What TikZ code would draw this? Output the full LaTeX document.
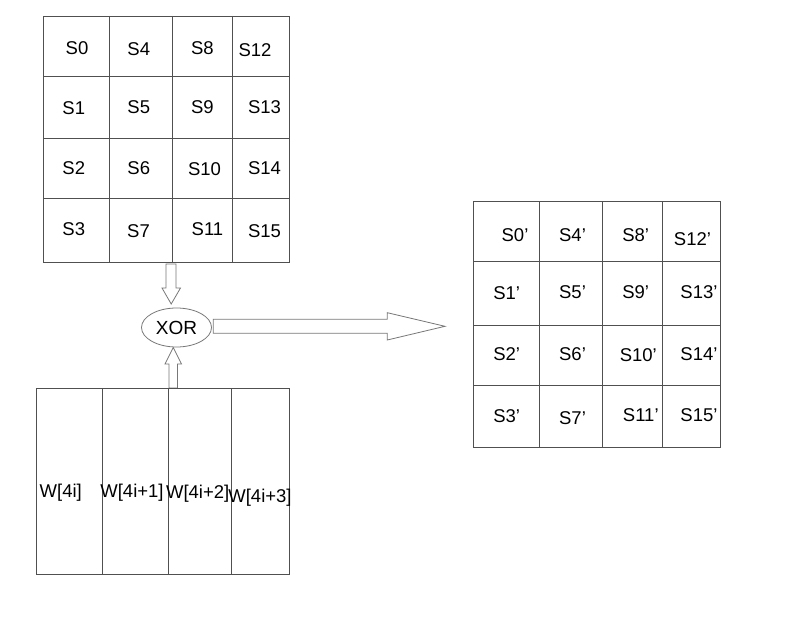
\documentclass[tikz,border=0pt]{standalone}
\usepackage{fontspec}
\setmainfont{Liberation Sans}
\usetikzlibrary{shapes.geometric}
\definecolor{gridcol}{RGB}{80,80,80}
\definecolor{arrcol}{RGB}{120,120,120}
\tikzset{
  gridbox/.style={draw=gridcol, line width=0.9pt, fill=none, inner sep=0pt, outer sep=0pt},
  gline/.style={draw=gridcol, line width=0.9pt},
  lbl/.style={inner sep=0pt, font=\fontsize{18.5}{20}\selectfont},
  blockarrow/.style={draw=arrcol, line width=0.8pt, fill=white, line join=miter},
}
\begin{document}
\begin{tikzpicture}[x=1pt,y=-1pt]
\useasboundingbox[fill=white] (0,0) rectangle (788,634);

% top state grid
\node[gridbox, minimum width=246pt, minimum height=246pt] (top) at (166,139) {};
\draw[gline] (109,16) -- (109,262) (172,16) -- (172,262) (232,16) -- (232,262);
\draw[gline] (43,76) -- (289,76) (43,138) -- (289,138) (43,198) -- (289,198);
\node[lbl] (s0) at (77,48.3) {S0};
\node[lbl] (s4) at (138.8,48.7) {S4};
\node[lbl] (s8) at (202.4,48.3) {S8};
\node[lbl] (s12) at (255,50.5) {S12};
\node[lbl] (s1) at (73.8,108) {S1};
\node[lbl] (s5) at (138.8,106.7) {S5};
\node[lbl] (s9) at (202.4,106.7) {S9};
\node[lbl] (s13) at (264.5,106.7) {S13};
\node[lbl] (s2) at (73.8,168) {S2};
\node[lbl] (s6) at (138.8,168) {S6};
\node[lbl] (s10) at (204.5,169.2) {S10};
\node[lbl] (s14) at (264.5,168) {S14};
\node[lbl] (s3) at (73.8,229.2) {S3};
\node[lbl] (s7) at (138.5,231.3) {S7};
\node[lbl] (s11) at (207.5,229.2) {S11};
\node[lbl] (s15) at (264.5,231.3) {S15};

% XOR
\node[ellipse, draw=arrcol, line width=0.8pt, minimum width=70pt, minimum height=39pt, inner sep=0pt, font=\fontsize{19}{20}\selectfont] (xor) at (176.5,327.5) {XOR};

% down arrow
\draw[blockarrow] (166,264) -- (176,264) -- (176,288) -- (180.5,288) -- (171.2,304) -- (162,288) -- (166,288) -- cycle;
% up arrow
\draw[blockarrow] (169,388) -- (177.5,388) -- (177.5,364) -- (181.5,364) -- (173.2,347.5) -- (165,364) -- (169,364) -- cycle;
% big right arrow
\draw[blockarrow] (213.3,319.3) -- (387.3,319.3) -- (387.3,312.7) -- (445,326.3) -- (387.3,340) -- (387.3,333.3) -- (213.3,333.3) -- cycle;

% right state grid
\node[gridbox, minimum width=246.7pt, minimum height=246pt] (res) at (596.65,324.7) {};
\draw[gline] (539,201.7) -- (539,447.7) (602.3,201.7) -- (602.3,447.7) (662.7,201.7) -- (662.7,447.7);
\draw[gline] (473.3,261.7) -- (720,261.7) (473.3,325) -- (720,325) (473.3,385) -- (720,385);
\node[lbl] (r0) at (515,235) {S0’};
\node[lbl] (r4) at (572.5,235.3) {S4’};
\node[lbl] (r8) at (635.7,235) {S8’};
\node[lbl] (r12) at (692.5,238.7) {S12’};
\node[lbl] (r1) at (506.7,293.3) {S1’};
\node[lbl] (r5) at (572.5,292.5) {S5’};
\node[lbl] (r9) at (635.7,292.5) {S9’};
\node[lbl] (r13) at (699,292.5) {S13’};
\node[lbl] (r2) at (506.7,354) {S2’};
\node[lbl] (r6) at (572.5,354) {S6’};
\node[lbl] (r10) at (638.3,355.5) {S10’};
\node[lbl] (r14) at (699,354) {S14’};
\node[lbl] (r3) at (506.7,415.8) {S3’};
\node[lbl] (r7) at (572.5,418) {S7’};
\node[lbl] (r11) at (640.8,415.5) {S11’};
\node[lbl] (r15) at (699,415.5) {S15’};

% key words grid
\node[gridbox, minimum width=252.3pt, minimum height=186pt] (key) at (162.85,481.3) {};
\draw[gline] (102.3,388.3) -- (102.3,574.3) (168.3,388.3) -- (168.3,574.3) (231.7,388.3) -- (231.7,574.3);
\node[lbl] (w0) at (60.8,492.3) {W[4i]};
\node[lbl] (w1) at (132,492.3) {W[4i+1]};
\node[lbl] (w2) at (197.7,493.5) {W[4i+2]};
\node[lbl] (w3) at (260,498) {W[4i+3]};
\end{tikzpicture}
\end{document}
